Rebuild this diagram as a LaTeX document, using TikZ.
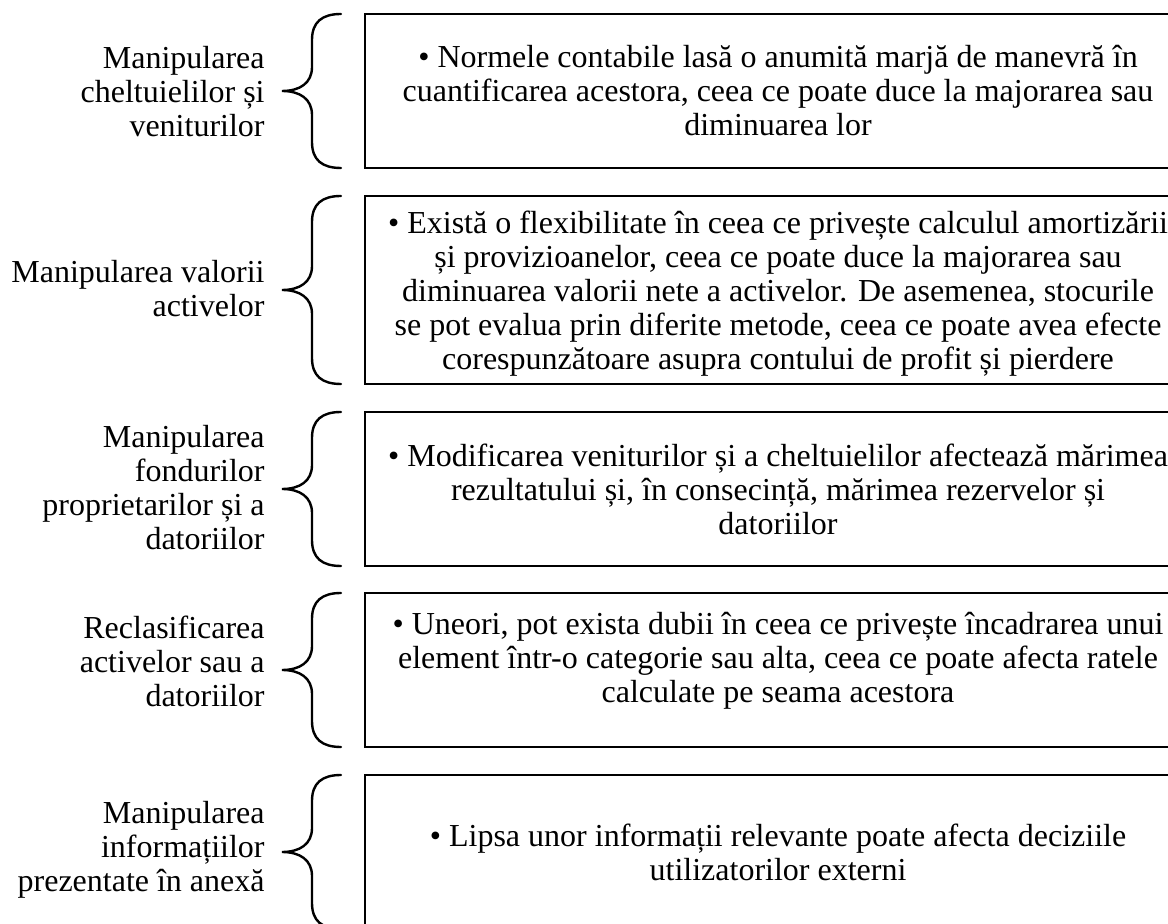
\documentclass[tikz,border=0pt]{standalone}
\usepackage{fontspec}
\setmainfont{Liberation Serif}
\newcommand\mybrace[2]{%
  \pgfmathsetmacro\braceMid{(#1+#2)/2}%
  \draw[bracestyle] (341,#1) .. controls (322,#1) and (312,#1+8) .. (312,#1+26)
    -- (312,\braceMid-24) .. controls (312,\braceMid-8) and (300,\braceMid) .. (282,\braceMid)
    .. controls (300,\braceMid) and (312,\braceMid+8) .. (312,\braceMid+24)
    -- (312,#2-26) .. controls (312,#2-8) and (322,#2) .. (341,#2);%
}
\tikzset{
  txt/.style={font=\fontsize{16pt}{17pt}\selectfont},
  bracestyle/.style={line width=1.2pt, line cap=round},
  infobox/.style={draw, line width=1.2pt, minimum width=413pt, inner sep=0pt,
    align=center, txt},
  lbl/.style={anchor=east, align=right, inner sep=0pt, txt}
}
\begin{document}
\begin{tikzpicture}[x=0.5pt, y=-0.5pt]
\useasboundingbox (0,0) rectangle (1168,924);
% boxes
\node[infobox, minimum height=77pt] (b1) at (778,91) {• Normele contabile lasă o anumită marjă de manevră în\\cuantificarea acestora, ceea ce poate duce la majorarea sau\\diminuarea lor};
\node[infobox, minimum height=94pt] (b2) at (778,290) {};
\node[align=center, inner sep=0pt, txt] (t2) at (778,294) {• Există o flexibilitate în ceea ce privește calculul amortizării\\și provizioanelor, ceea ce poate duce la majorarea sau\\diminuarea valorii nete a activelor. De asemenea, stocurile\\se pot evalua prin diferite metode, ceea ce poate avea efecte\\corespunzătoare asupra contului de profit și pierdere};
\node[infobox, minimum height=77pt] (b3) at (778,489) {• Modificarea veniturilor și a cheltuielilor afectează mărimea\\rezultatului și, în consecință, mărimea rezervelor și\\datoriilor};
\node[infobox, minimum height=77pt] (b4) at (778,670) {};
\node[align=center, inner sep=0pt, txt] (t4) at (778,661) {• Uneori, pot exista dubii în ceea ce privește încadrarea unui\\element într-o categorie sau alta, ceea ce poate afecta ratele\\calculate pe seama acestora};
\node[infobox, minimum height=77pt] (b5) at (778,852) {• Lipsa unor informații relevante poate afecta deciziile\\utilizatorilor externi};
% braces
\mybrace{14}{168}
\mybrace{196}{384}
\mybrace{412}{566}
\mybrace{593}{747}
\mybrace{775}{929}
% labels
\node[lbl] (l1) at (265,92) {Manipularea\\cheltuielilor și\\veniturilor};
\node[lbl] (l2) at (265,289) {Manipularea valorii\\activelor};
\node[lbl] (l3) at (265,488) {Manipularea\\fondurilor\\proprietarilor și a\\datoriilor};
\node[lbl] (l4) at (265,661) {Reclasificarea\\activelor sau a\\datoriilor};
\node[lbl] (l5) at (265,850) {Manipularea\\informațiilor\\prezentate în anexă};
\end{tikzpicture}
\end{document}
